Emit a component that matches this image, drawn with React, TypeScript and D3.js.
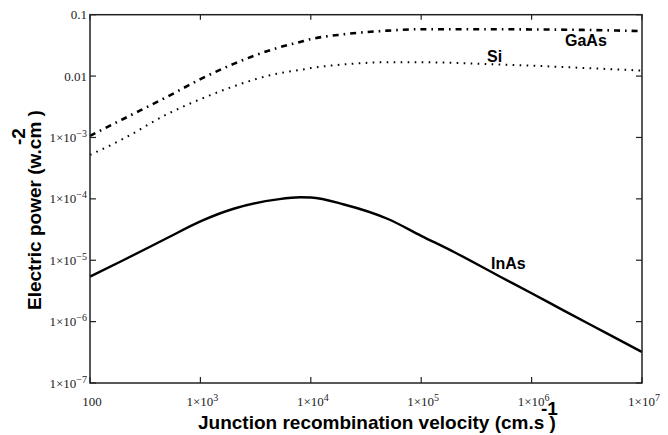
import * as d3 from 'd3';

// Vitesse de recombinaison (cm/s) et puissance électrique (W/cm²)
const VELOCITY = [100, 200, 500, 1e3, 2e3, 5e3, 8e3, 1e4, 2e4, 5e4, 1e5, 2e5, 5e5, 1e6, 2e6, 5e6, 1e7];
const GAAS = [1.06e-3, 2.0e-3, 4.6e-3, 8.9e-3, 0.0158, 0.0288, 0.036, 0.040, 0.048, 0.055, 0.058, 0.058, 0.058, 0.0575, 0.057, 0.0556, 0.054];
const SI = [5.2e-4, 9.5e-4, 2.4e-3, 4.2e-3, 6.8e-3, 0.011, 0.0126, 0.0135, 0.0155, 0.0168, 0.0168, 0.0164, 0.0155, 0.0148, 0.014, 0.013, 0.0123];
const INAS = [5.4e-6, 1.0e-5, 2.3e-5, 4.3e-5, 6.9e-5, 9.8e-5, 1.06e-4, 1.05e-4, 8.1e-5, 4.7e-5, 2.5e-5, 1.35e-5, 5.6e-6, 2.9e-6, 1.48e-6, 6.2e-7, 3.2e-7];

const X_TICKS = [1e2, 1e3, 1e4, 1e5, 1e6, 1e7];
const Y_TICKS = [1e-7, 1e-6, 1e-5, 1e-4, 1e-3, 1e-2, 1e-1];

const W = 668, H = 435;
const M = { left: 90, right: 642, top: 14.7, bottom: 383 };

const SERIES = [
  { name: 'GaAs', values: GAAS, dash: '6 5 1.6 5', width: 2.6, label: [565, 46] },
  { name: 'Si', values: SI, dash: '1.6 5.4', width: 2, label: [487, 62] },
  { name: 'InAs', values: INAS, dash: null, width: 2.4, label: [491, 269] },
];

const SERIF = "'Times New Roman', 'Liberation Serif', serif";
const SANS = "Arial, 'Liberation Sans', sans-serif";

function TickLabel({ v, x, y, anchor }: { v: number; x: number; y: number; anchor: string }) {
  const e = Math.round(Math.log10(v));
  if (v === 100 || e >= -2 && e <= -1) {
    const txt = v === 100 ? '100' : v === 0.1 ? '0.1' : '0.01';
    return <text x={x} y={y} textAnchor={anchor} fontFamily={SERIF} fontSize={13} fill="#222">{txt}</text>;
  }
  const sup = e < 0 ? `\u2212${-e}` : `${e}`;
  return (
    <text x={x} y={y} textAnchor={anchor} fontFamily={SERIF} fontSize={13} fill="#222">
      1×10<tspan fontSize={10} dy={-5}>{sup}</tspan>
    </text>
  );
}

export default function App() {
  const x = d3.scaleLog().domain([1e2, 1e7]).range([M.left, M.right]);
  const y = d3.scaleLog().domain([1e-7, 1e-1]).range([M.bottom, M.top]);

  const line = (vals: number[]) =>
    d3.line<number>()
      .x((_, i) => x(VELOCITY[i]))
      .y(d => y(d))
      .curve(d3.curveMonotoneX)(vals) as string;

  return (
    <div style={{ position: 'fixed', left: 0, top: 0, width: W, height: H, background: '#fff' }}>
      <svg width={W} height={H} style={{ display: 'block' }}>
        {/* courbes */}
        {SERIES.map(s => (
          <path key={s.name} d={line(s.values)} fill="none" stroke="#000"
            strokeWidth={s.width} strokeDasharray={s.dash ?? undefined} strokeLinecap="butt" />
        ))}

        {/* cadre */}
        <rect x={M.left} y={M.top} width={M.right - M.left} height={M.bottom - M.top}
          fill="none" stroke="#222" strokeWidth={1.5} />

        {/* graduations sur les quatre côtés, vers l'intérieur */}
        {X_TICKS.map(t => (
          <g key={'x' + t}>
            <line x1={x(t)} x2={x(t)} y1={M.bottom} y2={M.bottom - 6} stroke="#222" strokeWidth={1.2} />
            <line x1={x(t)} x2={x(t)} y1={M.top} y2={M.top + 5} stroke="#222" strokeWidth={1.2} />
            <TickLabel v={t} x={x(t) + 2} y={406} anchor="middle" />
          </g>
        ))}
        {Y_TICKS.map(t => (
          <g key={'y' + t}>
            <line x1={M.left} x2={M.left + 6} y1={y(t)} y2={y(t)} stroke="#222" strokeWidth={1.2} />
            <line x1={M.right} x2={M.right - 6} y1={y(t)} y2={y(t)} stroke="#222" strokeWidth={1.2} />
            <TickLabel v={t} x={87} y={y(t) + 4.5} anchor="end" />
          </g>
        ))}

        {/* étiquettes des courbes */}
        {SERIES.map(s => (
          <text key={'l' + s.name} x={s.label[0]} y={s.label[1]} fontFamily={SANS}
            fontWeight="bold" fontSize={16} fill="#000">{s.name}</text>
        ))}

        {/* titres des axes */}
        <text x={198} y={429} fontFamily={SANS} fontWeight="bold" fontSize={19} fill="#000">
          Junction recombination velocity (cm.s )
        </text>
        <text x={541} y={415} fontFamily={SANS} fontWeight="bold" fontSize={19} fill="#000">-1</text>

        <g transform="translate(41,310) rotate(-90)">
          <text x={0} y={0} fontFamily={SANS} fontWeight="bold" fontSize={19} fill="#000">
            Electric power (w.cm )
          </text>
        </g>
        <g transform="translate(25,145) rotate(-90)">
          <text x={0} y={0} fontFamily={SANS} fontWeight="bold" fontSize={19} fill="#000">-2</text>
        </g>
      </svg>
    </div>
  );
}
